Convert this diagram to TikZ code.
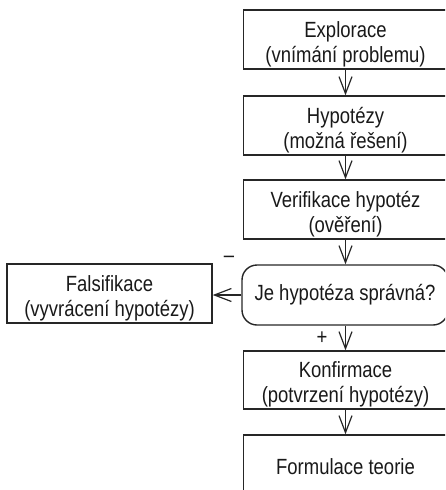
\documentclass[tikz,border=0pt]{standalone}
\usepackage{fontspec}
\setmainfont[FakeStretch=0.84]{Liberation Sans}
\usetikzlibrary{arrows.meta}
\newcommand\topstrut{\rule{0pt}{25pt}}
\begin{document}
\begin{tikzpicture}[x=1pt,y=-1pt,
  every node/.style={font=\fontsize{22}{25}\selectfont, text=black!90},
  box/.style={draw=black!85, line width=1.4pt, minimum width=204pt, minimum height=59pt, align=center, inner sep=0pt},
  decbox/.style={box, rounded corners=15pt, minimum height=60pt, minimum width=206pt},
  arr/.style={draw=black!85, line width=1.2pt, -{Straight Barb[length=17pt,width=13pt,line width=1.2pt]}},
  lbl/.style={inner sep=0pt}]
\clip (0,0) rectangle (445,490);
\node[box] (expl) at (345.5,39.5) {\topstrut Explorace\\(vnímání problemu)};
\node[box] (hyp) at (345.5,125.5) {\topstrut Hypotézy\\(možná řešení)};
\node[box] (ver) at (345.5,209.5) {\topstrut Verifikace hypotéz\\(ověření)};
\node[decbox] (dec) at (345,295) {Je hypotéza správná?};
\node[box, minimum width=205pt] (fal) at (109.5,293.5) {\topstrut Falsifikace\\(vyvrácení hypotézy)};
\node[box, minimum height=58pt] (konf) at (345.5,380) {\topstrut Konfirmace\\(potvrzení hypotézy)};
\node[box, minimum height=64pt] (form) at (345.5,467) {Formulace teorie};
\draw[arr] (expl) -- (hyp);
\draw[arr] (hyp) -- (ver);
\draw[arr] (ver) -- (ver.south |- dec.north);
\draw[arr] (dec.west) -- (dec.west -| fal.east);
\draw[arr] (ver.south |- dec.south) -- (konf);
\draw[arr] (konf) -- (form);
\node[lbl] (minus) at (229,259) {–};
\node[lbl] (plus) at (322,338) {+};
\end{tikzpicture}
\end{document}
